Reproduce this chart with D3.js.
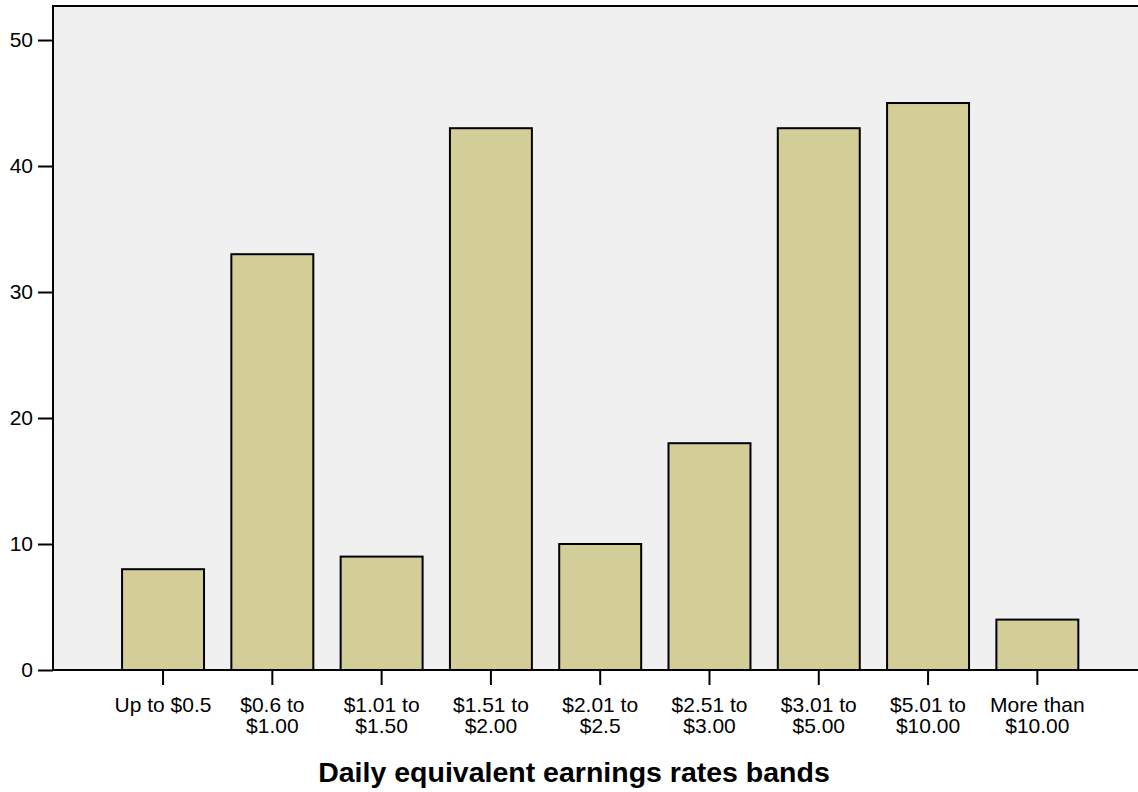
<!DOCTYPE html>
<html><head><meta charset="utf-8">
<script src="https://cdn.jsdelivr.net/npm/d3@7"></script>
<style>body{margin:0;background:#fff}svg{display:block}</style>
</head><body>
<script>
const categories = [["Up to $0.5"],["$0.6 to","$1.00"],["$1.01 to","$1.50"],["$1.51 to","$2.00"],["$2.01 to","$2.5"],["$2.51 to","$3.00"],["$3.01 to","$5.00"],["$5.01 to","$10.00"],["More than","$10.00"]];
const values = [8,33,9,43,10,18,43,45,4];
const yTicks = [0,10,20,30,40,50];
const xTitle = "Daily equivalent earnings rates bands";

const W = 1138, H = 792;
const svg = d3.select("body").append("svg").attr("width", W).attr("height", H);
const plotL = 53, plotT = 6, plotR = 1150, plotB = 670;

const x = d3.scaleBand().domain(categories.map((d,i)=>i)).range([108.4, 1092]).paddingInner(0.25).paddingOuter(0.125);
const y = d3.scaleLinear().domain([0, 52.7]).range([plotB, plotT]);

svg.append("rect").attr("x", plotL).attr("y", plotT).attr("width", plotR-plotL).attr("height", plotB-plotT)
  .attr("fill", "#f0f0f0").attr("stroke", "#000").attr("stroke-width", 2);

svg.selectAll("rect.bar").data(values).enter().append("rect").attr("class","bar")
  .attr("x", (d,i)=>x(i)).attr("width", x.bandwidth())
  .attr("y", d=>y(d)).attr("height", d=>plotB - y(d))
  .attr("fill", "#d3ce97").attr("stroke", "#000").attr("stroke-width", 2);

// y axis
const yAxis = svg.append("g").attr("transform", `translate(${plotL},0)`)
  .call(d3.axisLeft(y).tickValues(yTicks).tickSize(15).tickPadding(5).tickFormat(d3.format("d")));
yAxis.select(".domain").remove();
yAxis.selectAll("line").attr("stroke", "#000").attr("stroke-width", 2);
yAxis.selectAll("text").attr("font-family", "Liberation Sans, Arial, sans-serif").attr("font-size", 21).attr("fill", "#000");

// x axis
svg.append("line").attr("x1", plotL-1).attr("x2", W).attr("y1", plotB).attr("y2", plotB).attr("stroke", "#000").attr("stroke-width", 2);
const xg = svg.append("g");
categories.forEach((lines, i) => {
  const cx = x(i) + x.bandwidth()/2;
  xg.append("line").attr("x1", cx).attr("x2", cx).attr("y1", plotB).attr("y2", plotB + 15).attr("stroke", "#000").attr("stroke-width", 2);
  const t = xg.append("text").attr("x", cx).attr("y", 712).attr("text-anchor", "middle")
    .attr("font-family", "Liberation Sans, Arial, sans-serif").attr("font-size", 21).attr("fill", "#000");
  lines.forEach((l, k) => t.append("tspan").attr("x", cx).attr("y", 712 + k*21).text(l));
});

svg.append("text").attr("x", 574).attr("y", 782).attr("text-anchor", "middle")
  .attr("font-family", "Liberation Sans, Arial, sans-serif").attr("font-weight", "bold").attr("font-size", 28.5)
  .attr("fill", "#000").text(xTitle);
</script>
</body></html>
